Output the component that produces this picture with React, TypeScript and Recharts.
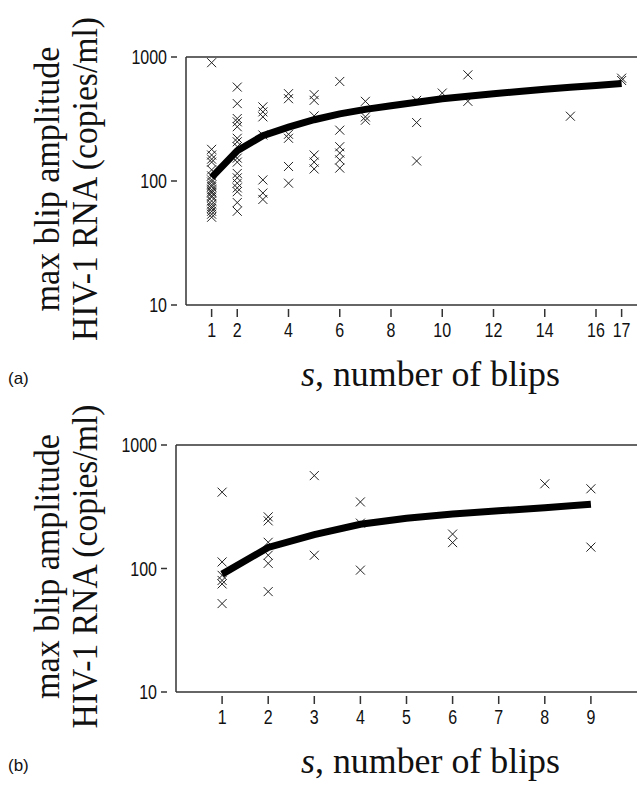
import React from 'react';
import { ScatterChart, Scatter, XAxis, YAxis, ReferenceLine, Label } from 'recharts';

// ---- Panel (a) data ----
const topBlipCounts = [
  1, 1, 1, 1, 1, 1, 1, 1, 1, 1, 1, 1, 1, 1, 1, 1, 1, 1, 1, 1, 1, 1, 1,
  2, 2, 2, 2, 2, 2, 2, 2, 2, 2, 2, 2, 2, 2, 2, 2, 2,
  3, 3, 3, 3, 3, 3, 3,
  4, 4, 4, 4, 4, 4,
  5, 5, 5, 5, 5, 5,
  6, 6, 6, 6, 6, 6,
  7, 7, 7,
  9, 9, 9,
  10,
  11, 11,
  15,
  17, 17,
];
const topAmplitudes = [
  900, 180, 162, 150, 142, 123, 110, 102, 98, 93, 90, 85, 82, 80, 76, 74, 69, 65, 62, 60, 57, 54, 51,
  572, 421, 319, 300, 274, 221, 207, 189, 153, 142, 115, 106, 96, 88, 82, 67, 57,
  396, 361, 329, 235, 102, 80, 71,
  506, 461, 238, 221, 131, 96,
  497, 447, 335, 162, 142, 125,
  635, 257, 189, 168, 148, 127,
  439, 329, 309,
  447, 296, 145,
  512,
  718, 439,
  333,
  675, 646,
];
const topFitS = [1, 2, 3, 4, 5, 6, 7, 8, 9, 10, 11, 12, 13, 14, 15, 16, 17];
const topFitAmp = [107, 175, 232, 272, 312, 348, 378, 405, 432, 460, 482, 505, 527, 550, 570, 590, 612];
const topXTicks = [1, 2, 4, 6, 8, 10, 12, 14, 16, 17];

// ---- Panel (b) data ----
const botBlipCounts = [
  1, 1, 1, 1, 1, 1,
  2, 2, 2, 2, 2, 2,
  3, 3,
  4, 4, 4,
  6, 6,
  8,
  9, 9,
];
const botAmplitudes = [
  415, 113, 88, 80, 75, 52,
  262, 243, 163, 128, 110, 65,
  565, 128,
  346, 233, 97,
  190, 162,
  485,
  442, 149,
];
const botFitS = [1, 2, 3, 4, 5, 6, 7, 8, 9];
const botFitAmp = [90, 148, 188, 228, 255, 276, 293, 311, 332];
const botXTicks = [1, 2, 3, 4, 5, 6, 7, 8, 9];

const yTicks = [10, 100, 1000];

const toPoints = (xs: number[], ys: number[]) => xs.map((x, i) => ({ x, y: ys[i] }));

const TICK_FONT = '"Liberation Sans", Arial, sans-serif';
const SERIF = '"Liberation Serif", "Times New Roman", serif';
const AXIS_COLOR = '#333';

const Cross = (props: any) => {
  const { cx, cy } = props;
  if (cx == null || cy == null) return <g />;
  const r = 4.5;
  return (
    <path
      d={`M${cx - r},${cy - r}L${cx + r},${cy + r}M${cx - r},${cy + r}L${cx + r},${cy - r}`}
      stroke="#222"
      strokeWidth={1}
      fill="none"
    />
  );
};

const Empty = () => <g />;

const YTick = (props: any) => {
  const { x, y, payload } = props;
  return (
    <g>
      <line x1={x - 15} x2={x - 9} y1={y} y2={y} stroke={AXIS_COLOR} strokeWidth={1.5} />
      <text
        transform={`translate(${x - 19}, ${y + 7}) scale(0.8, 1)`}
        textAnchor="end"
        fontSize={20}
        fontFamily={TICK_FONT}
        fill="#111"
      >
        {payload.value}
      </text>
    </g>
  );
};

const XTick = (props: any) => {
  const { x, y, payload } = props;
  return (
    <g>
      <line x1={x} x2={x} y1={y + 4} y2={y + 12} stroke={AXIS_COLOR} strokeWidth={1.5} />
      <text
        transform={`translate(${x}, ${y + 32}) scale(0.8, 1)`}
        textAnchor="middle"
        fontSize={20}
        fontFamily={TICK_FONT}
        fill="#111"
      >
        {payload.value}
      </text>
    </g>
  );
};

type PanelProps = {
  height: number;
  plotTop: number;
  plotBottom: number;
  plotLeft: number;
  xDomain: [number, number];
  xTicks: number[];
  points: { x: number; y: number }[];
  fit: { x: number; y: number }[];
  tag: string;
};

const Panel = ({ height, plotTop, plotBottom, plotLeft, xDomain, xTicks, points, fit, tag }: PanelProps) => {
  const xAxisHeight = height - plotBottom;
  const midY = (plotTop + plotBottom) / 2;
  return (
    <ScatterChart
      width={637}
      height={height}
      margin={{ top: plotTop, right: 0, bottom: 0, left: 0 }}
    >
      <XAxis
        type="number"
        dataKey="x"
        domain={xDomain}
        ticks={xTicks}
        interval={0}
        allowDataOverflow
        height={xAxisHeight}
        tickSize={0}
        tickMargin={0}
        tickLine={false}
        axisLine={{ stroke: AXIS_COLOR, strokeWidth: 1.5 }}
        tick={<XTick />}
      >
        <Label
          content={() => (
            <g>
              <text x={8} y={plotBottom + 79} fontSize={17} fontFamily='"Liberation Sans", Arial, sans-serif' fill="#111">
                {tag}
              </text>
              <text
                x={301}
                y={plotBottom + 81}
                textLength={259}
                lengthAdjust="spacingAndGlyphs"
                fontSize={35}
                fontFamily={SERIF}
                fill="#111"
              >
                <tspan fontStyle="italic">s</tspan>
                <tspan>, number of blips</tspan>
              </text>
            </g>
          )}
        />
      </XAxis>
      <YAxis
        type="number"
        dataKey="y"
        scale="log"
        domain={[10, 1000]}
        ticks={yTicks}
        allowDataOverflow
        width={plotLeft}
        tickSize={0}
        tickMargin={0}
        tickLine={false}
        axisLine={{ stroke: AXIS_COLOR, strokeWidth: 1.5 }}
        tick={<YTick />}
      >
        <Label
          content={() => (
            <g>
              <text
                transform={`translate(59, ${midY - 2}) rotate(-90)`}
                textAnchor="middle"
                textLength={265}
                lengthAdjust="spacingAndGlyphs"
                fontSize={36}
                fontFamily={SERIF}
                fill="#111"
              >
                max blip amplitude
              </text>
              <text
                transform={`translate(97, ${midY - 2}) rotate(-90)`}
                textAnchor="middle"
                textLength={324}
                lengthAdjust="spacingAndGlyphs"
                fontSize={36}
                fontFamily={SERIF}
                fill="#111"
              >
                HIV-1 RNA (copies/ml)
              </text>
            </g>
          )}
        />
      </YAxis>
      <ReferenceLine y={1000} stroke={AXIS_COLOR} strokeWidth={1.5} />
      <Scatter data={points} shape={<Cross />} isAnimationActive={false} />
      <Scatter
        data={fit}
        shape={<Empty />}
        line={{ stroke: '#000', strokeWidth: 7 }}
        lineType="joint"
        isAnimationActive={false}
      />
    </ScatterChart>
  );
};

export default function App() {
  return (
    <div style={{ position: 'absolute', left: 0, top: 0, width: 637, height: 789, background: '#fff', overflow: 'hidden' }}>
      <style>{`.recharts-surface { overflow: visible; } .recharts-wrapper { overflow: visible; }`}</style>
      <div style={{ position: 'absolute', left: 0, top: 0 }}>
        <Panel
          height={400}
          plotTop={57}
          plotBottom={305}
          plotLeft={186}
          xDomain={[0, 17.6]}
          xTicks={topXTicks}
          points={toPoints(topBlipCounts, topAmplitudes)}
          fit={toPoints(topFitS, topFitAmp)}
          tag="(a)"
        />
      </div>
      <div style={{ position: 'absolute', left: 0, top: 390 }}>
        <Panel
          height={399}
          plotTop={55}
          plotBottom={302}
          plotLeft={176}
          xDomain={[0, 10]}
          xTicks={botXTicks}
          points={toPoints(botBlipCounts, botAmplitudes)}
          fit={toPoints(botFitS, botFitAmp)}
          tag="(b)"
        />
      </div>
    </div>
  );
}
